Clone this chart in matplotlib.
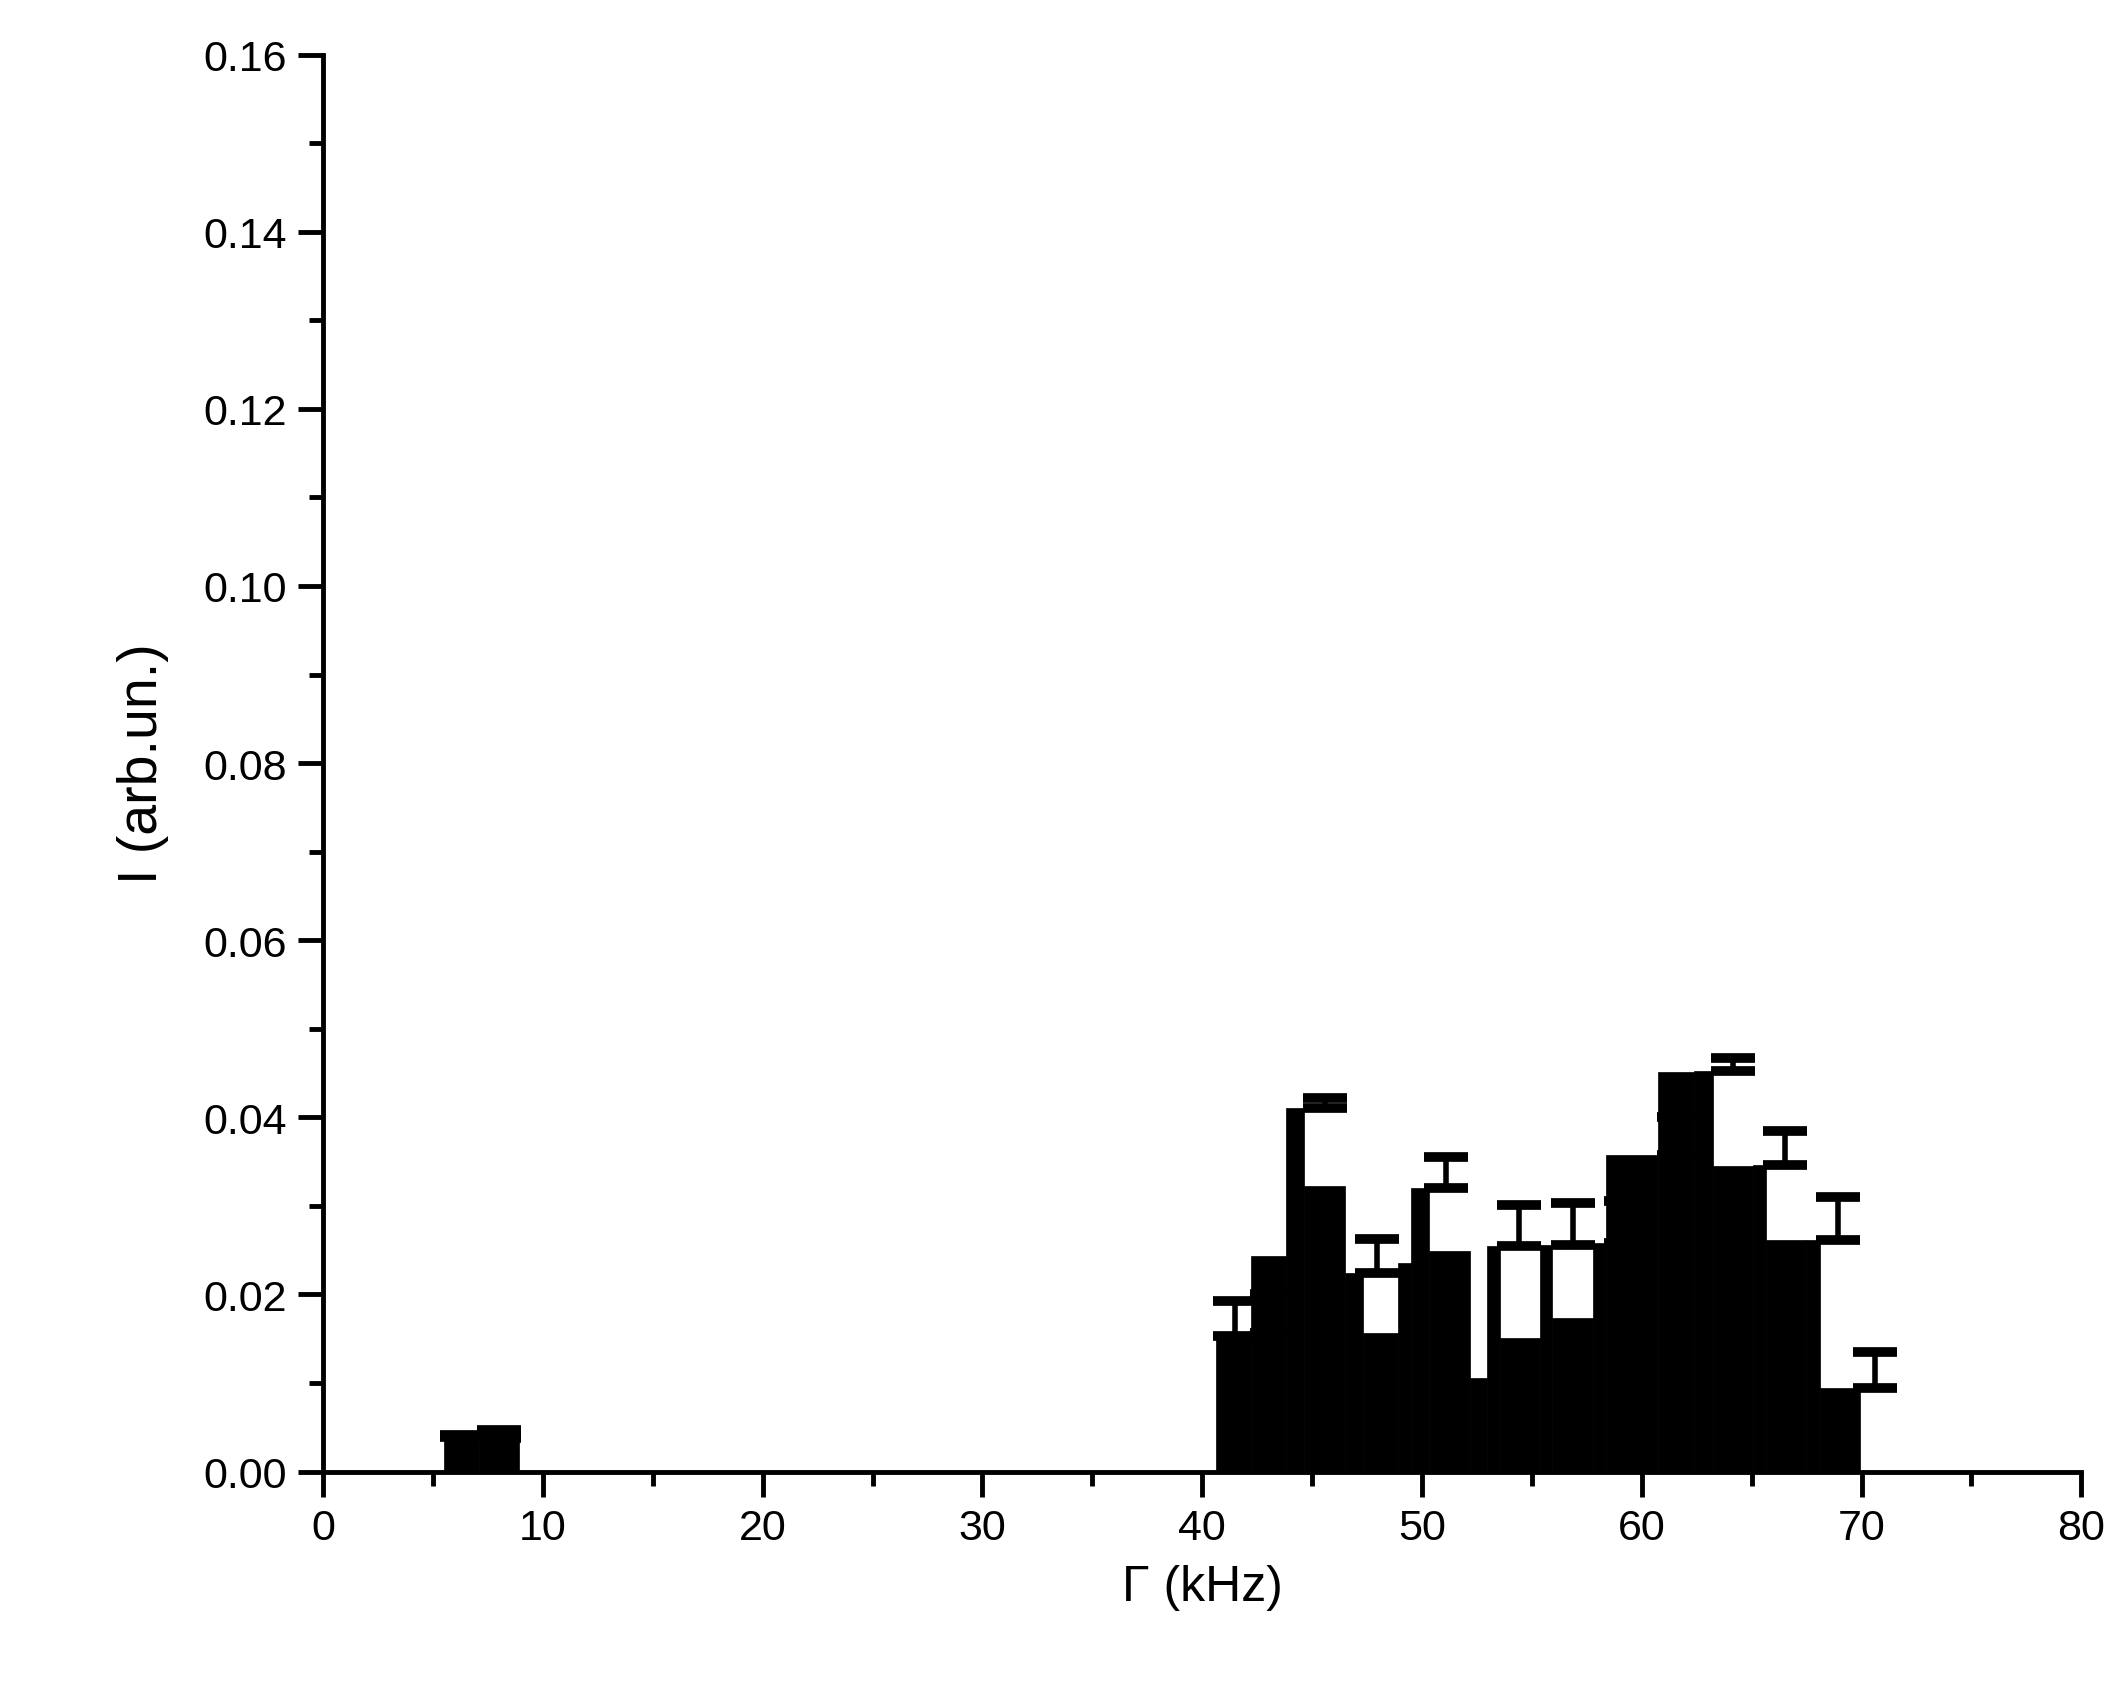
import matplotlib
matplotlib.use("Agg")
import matplotlib.pyplot as plt
import numpy as np

plt.rcParams['font.family'] = ['Liberation Sans', 'DejaVu Sans']

# bar edges (kHz) and heights
edges = [5.51, 7.09, 8.93, None,
         40.61, 42.2, 43.83, 44.64, 46.48, 47.33, 48.92, 49.51, 50.30, 52.18, 52.97,
         53.54, 55.38, 55.93, 57.78, 58.35, 60.74, 62.39, 63.22, 65.08, 65.66, 67.48,
         68.09, 69.92, 71.5]
heights = [0.0039, 0.0038, None,
           0.0153, 0.0157, 0.0243, 0.0410, 0.0323, 0.0224, 0.0156, 0.0235, 0.0320, 0.0249,
           0.0106, 0.0255, 0.0151, 0.0256, 0.0173, 0.0258, 0.0358, 0.0451, 0.0452, 0.0345,
           0.0346, 0.0261, 0.0262, 0.0094]
# error bars: x position, value, upper error
err_x = [6.3, 8.0, 41.5, 43.16, 45.6, 47.97, 51.08, 54.43, 56.86, 59.26, 61.7, 64.13, 66.53, 68.94, 70.59]
err_y = [0.0039, 0.0038, 0.0153, 0.0157, 0.0410, 0.0224, 0.0320, 0.0255, 0.0256, 0.0258, 0.0358, 0.0452, 0.0346, 0.0262, 0.0094]
err_u = [0.0002, 0.0009, 0.0040, 0.0043, 0.0012, 0.0039, 0.0035, 0.0046, 0.0047, 0.0048, 0.0042, 0.0015, 0.0039, 0.0048, 0.0041]

fig = plt.figure(figsize=(21.26, 16.83), dpi=100)
ax = fig.add_axes([0.152, 0.125, 0.827, 0.842])

for i, h in enumerate(heights):
    l, r = edges[i], edges[i + 1]
    if h is None or l is None or r is None:
        continue
    ax.bar(l, h, width=r - l, align='edge', color='black', edgecolor='black', linewidth=0.5, zorder=2)

ax.errorbar(err_x, err_y, yerr=[np.zeros(len(err_u)), err_u], fmt='none', ecolor='black',
            elinewidth=4, capsize=16, capthick=7, zorder=3)

ax.set_xlim(0, 80)
ax.set_ylim(0, 0.16)
ax.set_xticks(np.arange(0, 81, 10))
ax.set_xticks(np.arange(0, 81, 5), minor=True)
ax.set_yticks(np.arange(0, 0.161, 0.02))
ax.set_yticks(np.arange(0, 0.161, 0.01), minor=True)
ax.set_yticklabels([f"{v:.2f}" for v in np.arange(0, 0.161, 0.02)])
for s in ['top', 'right']:
    ax.spines[s].set_visible(False)
for s in ['left', 'bottom']:
    ax.spines[s].set_linewidth(3.5)
ax.tick_params(which='major', direction='out', length=18, width=3.5, labelsize=31, pad=8)
ax.tick_params(which='minor', direction='out', length=10, width=3.5)
ax.set_xlabel('Γ (kHz)', fontsize=36, labelpad=12)
ax.set_ylabel('I (arb.un.)', fontsize=40, labelpad=25)

fig.savefig('out.png', dpi=100)
